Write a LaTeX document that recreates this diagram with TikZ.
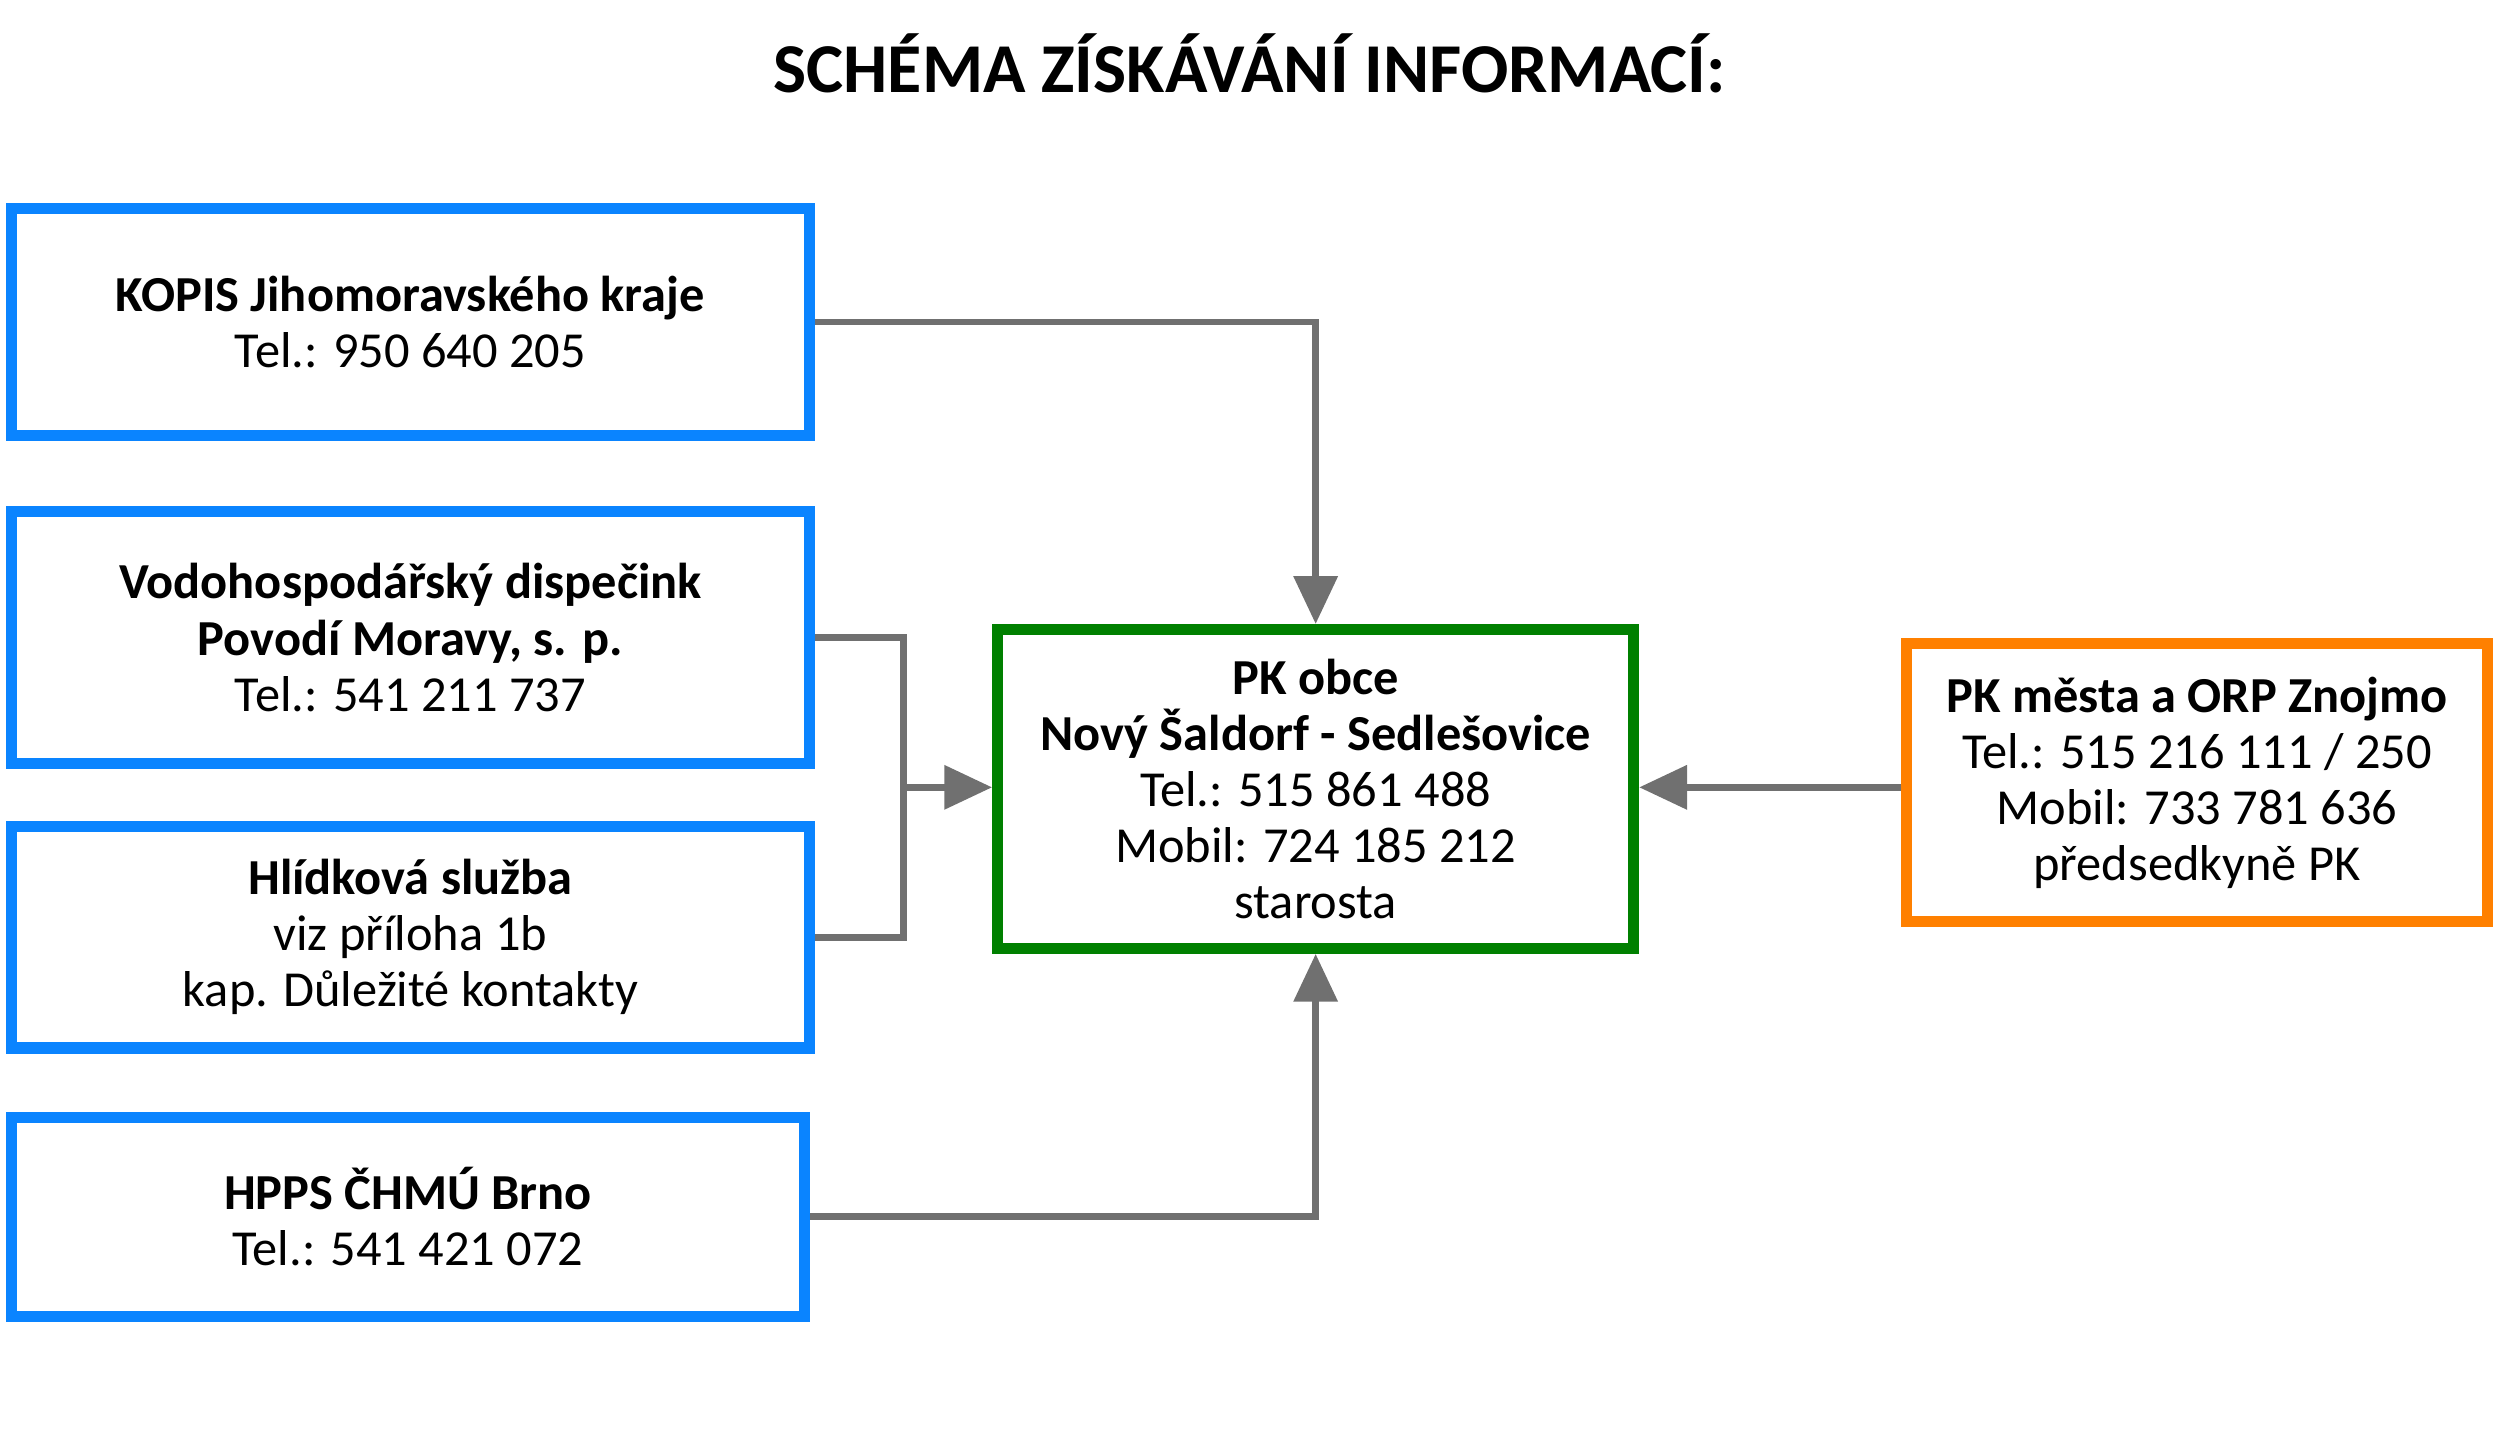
\documentclass[tikz,border=0pt]{standalone}
\usepackage{fontspec}
\setmainfont{Carlito}
\usetikzlibrary{arrows.meta}
\definecolor{boxblue}{RGB}{10,132,255}
\definecolor{boxgreen}{RGB}{0,128,0}
\definecolor{boxorange}{RGB}{255,128,0}
\definecolor{linegrey}{RGB}{112,112,112}
\tikzset{
  infobox/.style={draw=boxblue, line width=2pt, align=center, inner sep=0pt,
    font=\fontsize{9}{10}\selectfont},
  link/.style={draw=linegrey, line width=1.2pt},
  linkarrow/.style={link, -{Triangle[length=0.3cm,width=0.27cm]}}
}
\begin{document}
\begin{tikzpicture}
  \useasboundingbox (0,0) rectangle (15.68,9.08);
  % title
  \node (title) at (7.84,8.68) {\fontsize{12.5}{14}\selectfont\bfseries SCHÉMA ZÍSKÁVÁNÍ INFORMACÍ:};

  % sources
  \node [infobox, minimum width=5.01cm, minimum height=1.42cm] (kopis) at (2.575,7.06)
    {\textbf{KOPIS Jihomoravského kraje}\\Tel.: 950 640 205};
  \node [infobox, minimum width=5.01cm, minimum height=1.58cm] (povodi) at (2.575,5.08)
    {\textbf{Vodohospodářský dispečink}\\\textbf{Povodí Moravy, s. p.}\\Tel.: 541 211 737};
  \node [infobox, minimum width=5.01cm, minimum height=1.39cm] (hlidka) at (2.575,3.20)
    {\textbf{Hlídková služba}\\viz příloha 1b\\kap. Důležité kontakty};
  \node [infobox, minimum width=4.98cm, minimum height=1.25cm] (chmu) at (2.56,1.445)
    {\textbf{HPPS ČHMÚ Brno}\\Tel.: 541 421 072};

  % receivers
  \node [infobox, draw=boxgreen, minimum width=3.99cm, minimum height=2.0cm] (obec) at (8.255,4.13)
    {\textbf{PK obce}\\\textbf{Nový Šaldorf - Sedlešovice}\\Tel.: 515 861 488\\Mobil: 724 185 212\\starosta};
  \node [infobox, draw=boxorange, minimum width=3.65cm, minimum height=1.74cm] (orp) at (13.785,4.17)
    {\textbf{PK města a ORP Znojmo}\\Tel.: 515 216 111 / 250\\Mobil: 733 781 636\\předsedkyně PK};

  % connectors
  \coordinate (bus) at (5.67,4.14);
  \draw [linkarrow] (kopis.east) -| (obec.north);
  \draw [link] (povodi.east) -| (bus) |- (hlidka.east);
  \draw [linkarrow] (bus) -- (bus -| obec.west);
  \draw [linkarrow] (chmu.east) -| (obec.south);
  \draw [linkarrow] (orp.west |- bus) -- (bus -| obec.east);
\end{tikzpicture}
\end{document}
